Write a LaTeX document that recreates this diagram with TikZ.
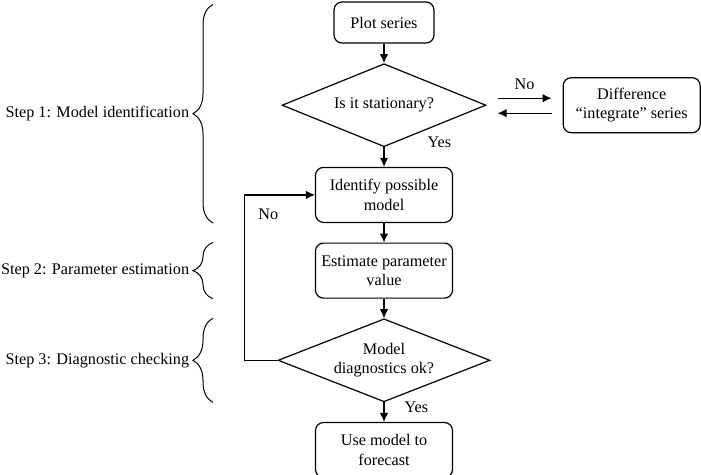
\documentclass[tikz,border=0pt]{standalone}
\usepackage{fontspec}
\setmainfont{Liberation Serif}
\usetikzlibrary{shapes,arrows.meta,positioning,decorations.pathreplacing}

\begin{document}
\begin{tikzpicture}[
    x=1pt, y=1pt,
    font=\fontsize{16.2}{19.5}\selectfont,
    node distance=19.5pt,
    >={Latex[length=9pt,width=8.5pt]},
    box/.style={draw, rectangle, rounded corners=8pt, line width=1.2pt, minimum width=137pt, minimum height=55pt, align=center},
    decision/.style={draw, diamond, aspect=2.5, inner sep=-6pt, line width=1.2pt, minimum height=83pt, align=center},
    flow/.style={->, line width=1.2pt},
    stepbrace/.style={decorate, decoration={brace, amplitude=20pt}, line width=1pt}
]
    \useasboundingbox (0,0) rectangle (701,-474);
    \node[box, minimum width=100pt, minimum height=41pt] (plot) at (384,-22.5) {Plot series};
    \node[decision, minimum width=204pt, below=of plot] (stationary) {Is it stationary?};
    \node[box, right=76pt of stationary] (diff) {Difference\\“integrate” series};
    \node[box, below=of stationary] (identify) {Identify possible\\model};
    \node[box, below=of identify] (estimate) {Estimate parameter\\value};
    \node[decision, minimum width=212pt, below=of estimate] (diagnostics) {Model\\diagnostics ok?};
    \node[box, below=of diagnostics] (forecast) {Use model to\\forecast};

    \draw[flow] (plot) -- (stationary);
    \draw[flow] (stationary) -- (identify);
    \draw[flow] (identify) -- (estimate);
    \draw[flow] (estimate) -- (diagnostics);
    \draw[flow] (diagnostics) -- (forecast);
    \draw[flow] ([xshift=11pt,yshift=7pt]stationary.east) -- node[above, yshift=5pt] (no1) {No} ([xshift=-11pt,yshift=7pt]diff.west);
    \draw[flow] ([xshift=-11pt,yshift=-8pt]diff.west) -- ([xshift=11pt,yshift=-8pt]stationary.east);
    \draw[flow] (diagnostics.west) -- ++(-33,0) |- node[pos=.5, anchor=north west, xshift=10pt, yshift=-10pt] (no2) {No} (identify.west);
    \node[anchor=west] (yes1) at ([xshift=40pt,yshift=5pt]stationary.south) {Yes};
    \node[anchor=west] (yes2) at ([xshift=17pt,yshift=-5pt]diagnostics.south) {Yes};

    \coordinate (bx) at (213,0);
    \draw[stepbrace] (bx |- identify.south) -- ([yshift=-3pt]plot.north -| bx) node[midway, left, xshift=-20pt] (step1) {Step 1: Model identification};
    \draw[stepbrace] (bx |- estimate.south) -- (bx |- estimate.north) node[midway, left, xshift=-20pt] (step2) {Step 2: Parameter estimation};
    \draw[stepbrace] (bx |- diagnostics.south) -- (bx |- diagnostics.north) node[midway, left, xshift=-20pt] (step3) {Step 3: Diagnostic checking};
\end{tikzpicture}
\end{document}
